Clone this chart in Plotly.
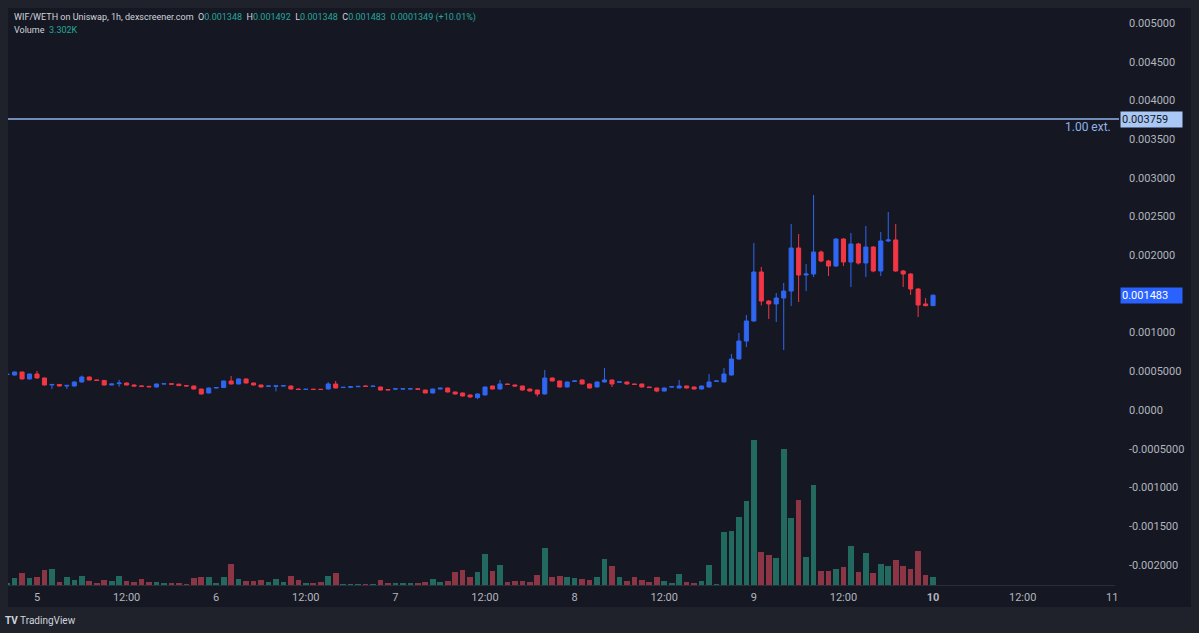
import pandas as pd
import plotly.graph_objects as go

# ---------------- data ----------------
start_time = "2024-03-04 20:00"   # first hourly candle
opens = [0.000458, 0.000452, 0.000491, 0.000401, 0.000465, 0.000413, 0.000323, 0.000330, 0.000310, 0.000310,
         0.000362, 0.000426, 0.000388, 0.000382, 0.000323, 0.000340, 0.000349, 0.000323, 0.000310, 0.000306,
         0.000297, 0.000336, 0.000339, 0.000334, 0.000315, 0.000310, 0.000271, 0.000220, 0.000284, 0.000290,
         0.000375, 0.000336, 0.000401, 0.000349, 0.000323, 0.000306, 0.000306, 0.000310, 0.000310, 0.000271,
         0.000265, 0.000268, 0.000268, 0.000271, 0.000336, 0.000290, 0.000293, 0.000300, 0.000310, 0.000305,
         0.000297, 0.000265, 0.000271, 0.000271, 0.000272, 0.000274, 0.000258, 0.000220, 0.000271, 0.000284,
         0.000233, 0.000220, 0.000194, 0.000160, 0.000194, 0.000310, 0.000271, 0.000336, 0.000323, 0.000310,
         0.000271, 0.000258, 0.000207, 0.000413, 0.000375, 0.000297, 0.000370, 0.000388, 0.000336, 0.000297,
         0.000362, 0.000388, 0.000358, 0.000362, 0.000336, 0.000336, 0.000297, 0.000284, 0.000245, 0.000297,
         0.000284, 0.000310, 0.000297, 0.000271, 0.000297, 0.000370, 0.000362, 0.000452, 0.000659, 0.000891,
         0.001150, 0.001783, 0.001408, 0.001370, 0.001447, 0.001537, 0.002093, 0.001744, 0.001757, 0.002041,
         0.001925, 0.001860, 0.002209, 0.001912, 0.002145, 0.001899, 0.002106, 0.001796, 0.002184, 0.002197,
         0.001796, 0.001757, 0.001563, 0.001370, 0.001348]
highs = [0.000470, 0.000497, 0.000495, 0.000470, 0.000505, 0.000418, 0.000336, 0.000336, 0.000322, 0.000368,
         0.000445, 0.000432, 0.000392, 0.000386, 0.000340, 0.000390, 0.000355, 0.000328, 0.000315, 0.000310,
         0.000340, 0.000342, 0.000342, 0.000337, 0.000318, 0.000313, 0.000275, 0.000290, 0.000292, 0.000380,
         0.000440, 0.000410, 0.000405, 0.000353, 0.000327, 0.000314, 0.000318, 0.000318, 0.000314, 0.000275,
         0.000272, 0.000271, 0.000272, 0.000360, 0.000375, 0.000296, 0.000303, 0.000308, 0.000313, 0.000311,
         0.000300, 0.000268, 0.000276, 0.000277, 0.000277, 0.000277, 0.000262, 0.000276, 0.000286, 0.000288,
         0.000237, 0.000224, 0.000198, 0.000212, 0.000302, 0.000314, 0.000388, 0.000340, 0.000327, 0.000314,
         0.000275, 0.000262, 0.000517, 0.000420, 0.000380, 0.000367, 0.000380, 0.000393, 0.000340, 0.000367,
         0.000543, 0.000393, 0.000368, 0.000367, 0.000340, 0.000340, 0.000300, 0.000288, 0.000290, 0.000305,
         0.000388, 0.000314, 0.000300, 0.000315, 0.000465, 0.000380, 0.000543, 0.000724, 0.000995, 0.001227,
         0.002158, 0.001848, 0.001420, 0.001512, 0.001641, 0.002403, 0.002274, 0.001886, 0.002778, 0.002060,
         0.001940, 0.002220, 0.002222, 0.002287, 0.002160, 0.002377, 0.002118, 0.002300, 0.002558, 0.002403,
         0.001810, 0.001770, 0.001575, 0.001447, 0.001492]
lows = [0.000452, 0.000445, 0.000395, 0.000395, 0.000405, 0.000318, 0.000271, 0.000305, 0.000271, 0.000305,
        0.000355, 0.000383, 0.000378, 0.000318, 0.000318, 0.000300, 0.000318, 0.000305, 0.000303, 0.000295,
        0.000290, 0.000332, 0.000330, 0.000312, 0.000306, 0.000266, 0.000200, 0.000214, 0.000280, 0.000285,
        0.000330, 0.000330, 0.000344, 0.000318, 0.000292, 0.000302, 0.000240, 0.000306, 0.000266, 0.000260,
        0.000261, 0.000262, 0.000261, 0.000266, 0.000280, 0.000286, 0.000290, 0.000297, 0.000302, 0.000302,
        0.000252, 0.000255, 0.000268, 0.000268, 0.000268, 0.000264, 0.000214, 0.000214, 0.000268, 0.000228,
        0.000200, 0.000176, 0.000160, 0.000140, 0.000190, 0.000266, 0.000265, 0.000326, 0.000305, 0.000253,
        0.000240, 0.000175, 0.000200, 0.000370, 0.000292, 0.000292, 0.000365, 0.000330, 0.000278, 0.000292,
        0.000356, 0.000297, 0.000352, 0.000330, 0.000325, 0.000292, 0.000285, 0.000230, 0.000240, 0.000293,
        0.000280, 0.000279, 0.000266, 0.000266, 0.000292, 0.000366, 0.000357, 0.000446, 0.000650, 0.000814,
        0.001140, 0.001350, 0.001176, 0.001137, 0.000775, 0.001344, 0.001395, 0.001537, 0.001718, 0.001910,
        0.001731, 0.001850, 0.001860, 0.001589, 0.001880, 0.001718, 0.001780, 0.001731, 0.002170, 0.001785,
        0.001589, 0.001486, 0.001202, 0.001340, 0.001348]
closes = [0.000462, 0.000491, 0.000401, 0.000465, 0.000413, 0.000323, 0.000330, 0.000310, 0.000318, 0.000362,
          0.000426, 0.000388, 0.000382, 0.000323, 0.000336, 0.000349, 0.000323, 0.000310, 0.000306, 0.000300,
          0.000336, 0.000339, 0.000334, 0.000315, 0.000311, 0.000271, 0.000207, 0.000284, 0.000290, 0.000375,
          0.000336, 0.000401, 0.000349, 0.000323, 0.000297, 0.000310, 0.000312, 0.000314, 0.000271, 0.000265,
          0.000268, 0.000266, 0.000265, 0.000336, 0.000284, 0.000293, 0.000300, 0.000305, 0.000305, 0.000308,
          0.000258, 0.000260, 0.000273, 0.000274, 0.000274, 0.000268, 0.000220, 0.000271, 0.000282, 0.000233,
          0.000207, 0.000181, 0.000168, 0.000207, 0.000297, 0.000271, 0.000336, 0.000330, 0.000310, 0.000258,
          0.000245, 0.000207, 0.000413, 0.000375, 0.000297, 0.000362, 0.000375, 0.000336, 0.000284, 0.000362,
          0.000388, 0.000336, 0.000364, 0.000336, 0.000330, 0.000297, 0.000290, 0.000245, 0.000284, 0.000300,
          0.000310, 0.000284, 0.000271, 0.000310, 0.000362, 0.000375, 0.000465, 0.000659, 0.000891, 0.001150,
          0.001783, 0.001408, 0.001370, 0.001447, 0.001537, 0.002093, 0.001744, 0.001757, 0.002041, 0.001925,
          0.001860, 0.002209, 0.001912, 0.002145, 0.001899, 0.002106, 0.001796, 0.002184, 0.002197, 0.001796,
          0.001757, 0.001563, 0.001357, 0.001348, 0.001483]
volumes_k = [0.40, 2.67, 4.78, 2.79, 3.30, 6.09, 6.37, 1.07, 3.06, 2.11,
             3.70, 1.59, 0.68, 2.11, 1.47, 3.58, 1.59, 1.31, 2.39, 1.07,
             1.31, 0.80, 0.52, 0.40, 0.28, 2.67, 3.30, 3.30, 0.80, 3.30,
             8.48, 2.51, 1.71, 1.71, 2.11, 1.31, 2.51, 1.19, 3.46, 2.11,
             0.92, 0.40, 1.31, 3.58, 4.90, 0.28, 0.28, 0.20, 0.20, 0.28,
             2.11, 0.68, 0.52, 0.80, 0.40, 0.80, 1.31, 2.51, 1.07, 1.59,
             5.05, 5.85, 3.30, 5.05, 12.46, 5.57, 8.16, 1.19, 1.59, 1.59,
             1.19, 3.98, 14.85, 3.06, 3.46, 3.30, 2.79, 2.39, 2.11, 3.30,
             10.47, 7.44, 3.30, 1.47, 3.06, 2.11, 1.19, 3.06, 1.71, 0.92,
             4.38, 1.31, 0.92, 1.71, 7.96, 0.28, 21.10, 21.37, 26.94, 33.55,
             57.59, 13.01, 11.94, 10.75, 54.25, 26.79, 33.95, 11.02, 39.68, 5.45,
             5.45, 6.37, 7.04, 15.64, 5.29, 12.86, 4.78, 8.48, 7.56, 10.07,
             7.68, 6.37, 13.53, 3.98, 3.302]
ext_level = 0.003759
last_price = 0.001483

price_ticks = [0.005, 0.0045, 0.004, 0.0035, 0.003, 0.0025, 0.002, 0.001, 0.0005, 0.0,
               -0.0005, -0.001, -0.0015, -0.002]
price_tick_labels = ["0.005000", "0.004500", "0.004000", "0.003500", "0.003000", "0.002500",
                     "0.002000", "0.001000", "0.0005000", "0.0000", "-0.0005000", "-0.001000",
                     "-0.001500", "-0.002000"]
time_ticks = ["2024-03-05 00:00", "2024-03-05 12:00", "2024-03-06 00:00", "2024-03-06 12:00",
              "2024-03-07 00:00", "2024-03-07 12:00", "2024-03-08 00:00", "2024-03-08 12:00",
              "2024-03-09 00:00", "2024-03-09 12:00", "2024-03-10 00:00", "2024-03-10 12:00",
              "2024-03-11 00:00"]
time_tick_labels = ["5", "12:00", "6", "12:00", "7", "12:00", "8", "12:00", "9", "12:00",
                    "<b>10</b>", "12:00", "11"]

# ---------------- styling ----------------
W, H = 1199, 633
ML, MR, MT, MB = 8, 84, 8, 48
PW, PH = W - ML - MR, H - MT - MB
FRAME = "#1f222b"
PANE = "#151822"
UP = "#2f66f2"
DOWN = "#f23645"
VOL_UP = "#22695f"
VOL_DOWN = "#8c3545"
TXT = "#b2b5be"
TEAL = "#26a69a"
FONT = "Roboto, Liberation Sans, sans-serif"


def px_x(p):
    return (p - ML) / PW


def px_y(p):
    return (H - MB - p) / PH


times = pd.date_range(start_time, periods=len(opens), freq="h")
vol_colors = [VOL_UP if c >= o else VOL_DOWN for o, c in zip(opens, closes)]

fig = go.Figure()
fig.add_trace(go.Bar(
    x=times, y=volumes_k, yaxis="y2", marker=dict(color=vol_colors, line=dict(width=0)),
    width=0.76 * 3600 * 1000, hoverinfo="skip", showlegend=False))
fig.add_trace(go.Candlestick(
    x=times, open=opens, high=highs, low=lows, close=closes,
    increasing=dict(line=dict(color=UP, width=1), fillcolor=UP),
    decreasing=dict(line=dict(color=DOWN, width=1), fillcolor=DOWN),
    whiskerwidth=0, showlegend=False))

fig.update_layout(
    width=W, height=H,
    margin=dict(l=ML, r=MR, t=MT, b=MB, pad=0),
    paper_bgcolor=FRAME, plot_bgcolor=PANE,
    font=dict(family=FONT, color=TXT, size=11),
    showlegend=False,
    boxgap=0.22,
    xaxis=dict(
        type="date", range=["2024-03-04 20:07", "2024-03-11 00:22"],
        rangeslider=dict(visible=False), showgrid=False, zeroline=False,
        tickvals=time_ticks, ticktext=time_tick_labels, ticks="",
        tickfont=dict(size=11, color=TXT), showline=True, linecolor="#2a2e39", linewidth=1,
        ticklabelstandoff=2,
    ),
    yaxis=dict(
        side="right", range=[(410 - 585) / 77400, (410 - 8) / 77400],
        showgrid=False, zeroline=False, tickvals=price_ticks, ticktext=price_tick_labels,
        ticks="", tickfont=dict(size=11, color=TXT), ticklabelstandoff=13,
    ),
    yaxis2=dict(overlaying="y", range=[0, 57.59 * PH / 144.7], visible=False),
    bargap=0,
)

# dark pane incl. price & time axis areas
fig.add_shape(type="rect", xref="paper", yref="paper", x0=px_x(8), x1=px_x(1191),
              y0=px_y(607), y1=px_y(8), fillcolor=PANE, line=dict(width=0), layer="below")
# 1.00 extension line
fig.add_shape(type="line", xref="paper", yref="y", x0=0, x1=px_x(1119), y0=ext_level, y1=ext_level,
              line=dict(color="#8fb3ea", width=1.5))

fig.add_annotation(xref="paper", yref="y", x=px_x(1113), y=ext_level, yshift=-8,
                   text="1.00 ext.", showarrow=False, xanchor="right", yanchor="middle",
                   font=dict(size=12, color="#8fb3ea", family=FONT))
fig.add_annotation(xref="paper", yref="y", x=px_x(1120), y=ext_level, text="0.003759",
                   showarrow=False, xanchor="left", yanchor="middle", bgcolor="#a9c8f5",
                   width=59, height=13, align="left", borderpad=1,
                   font=dict(size=11, color="#131722", family=FONT))
fig.add_annotation(xref="paper", yref="y", x=px_x(1120), y=last_price, text="0.001483",
                   showarrow=False, xanchor="left", yanchor="middle", bgcolor="#2962ff",
                   width=59, height=13, align="left", borderpad=1,
                   font=dict(size=11, color="#ffffff", family=FONT))

span = "<span style='color:%s'>%s</span>"
header = ("WIF/WETH on Uniswap, 1h, dexscreener.com  O" + span % (TEAL, "0.001348") +
          "  H" + span % (TEAL, "0.001492") + "  L" + span % (TEAL, "0.001348") +
          "  C" + span % (TEAL, "0.001483") + "  " + span % (TEAL, "0.0001349 (+10.01%)"))
fig.add_annotation(xref="paper", yref="paper", x=px_x(12), y=px_y(18), text=header,
                   showarrow=False, xanchor="left", yanchor="middle",
                   font=dict(size=9, color="#d1d4dc", family=FONT))
fig.add_annotation(xref="paper", yref="paper", x=px_x(12), y=px_y(30),
                   text="Volume  " + span % (TEAL, "3.302K"),
                   showarrow=False, xanchor="left", yanchor="middle",
                   font=dict(size=9, color="#d1d4dc", family=FONT))
fig.add_annotation(xref="paper", yref="paper", x=px_x(3), y=px_y(620),
                   text="<b>TV</b> TradingView", showarrow=False, xanchor="left", yanchor="middle",
                   font=dict(size=10, color="#d1d4dc", family=FONT))

fig.write_html("out.html")
